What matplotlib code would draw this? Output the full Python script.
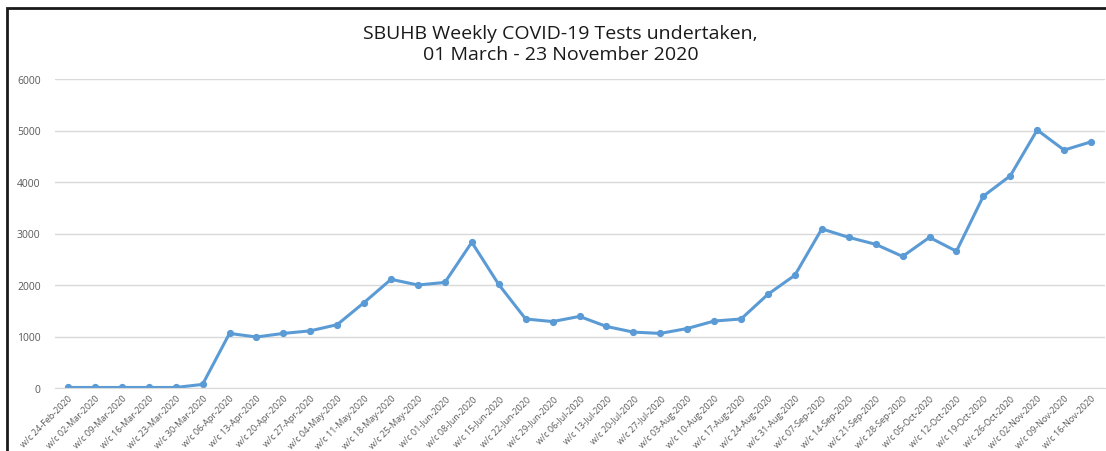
import numpy as np
import matplotlib
matplotlib.use('Agg')
import matplotlib.pyplot as plt
from matplotlib.patches import Rectangle

plt.rcParams['font.family'] = ['Open Sans', 'DejaVu Sans']

# week commencing labels and weekly test counts
weeks = ['24-Feb', '02-Mar', '09-Mar', '16-Mar', '23-Mar', '30-Mar',
         '06-Apr', '13-Apr', '20-Apr', '27-Apr', '04-May', '11-May',
         '18-May', '25-May', '01-Jun', '08-Jun', '15-Jun', '22-Jun',
         '29-Jun', '06-Jul', '13-Jul', '20-Jul', '27-Jul', '03-Aug',
         '10-Aug', '17-Aug', '24-Aug', '31-Aug', '07-Sep', '14-Sep',
         '21-Sep', '28-Sep', '05-Oct', '12-Oct', '19-Oct', '26-Oct',
         '02-Nov', '09-Nov', '16-Nov']
tests = [10, 10, 10, 10, 10, 70,
         1060, 990, 1060, 1110, 1230, 1660,
         2110, 2000, 2050, 2830, 2010, 1340,
         1290, 1390, 1195, 1085, 1060, 1155,
         1300, 1340, 1820, 2190, 3090, 2925,
         2790, 2555, 2925, 2655, 3725, 4120,
         5010, 4620, 4780]

labels = ['w/c ' + w + '-2020' for w in weeks]
x = np.arange(len(tests))

fig = plt.figure(figsize=(11.06, 4.52), dpi=100)
ax = fig.add_axes([54.5 / 1106, 1 - 389 / 452, 1050 / 1106, 309 / 452])

# outer chart frame (top and left edges visible)
fig.patches.append(Rectangle((7 / 1106, -0.1), 1.2, 1 - 9 / 452 + 0.1,
                             transform=fig.transFigure, fill=False,
                             edgecolor='#1a1a1a', linewidth=2))

ax.plot(x, tests, color='#5B9BD5', linewidth=2.2, marker='o', markersize=4.2)

ax.set_xlim(-0.5, len(tests) - 0.5)
ax.set_ylim(0, 6000)
ax.set_yticks(np.arange(0, 6001, 1000))
ax.yaxis.grid(True, color='#D9D9D9', linewidth=1)
ax.set_axisbelow(True)
for s in ['top', 'right', 'left']:
    ax.spines[s].set_visible(False)
ax.spines['bottom'].set_color('#D9D9D9')
ax.tick_params(axis='both', length=0, colors='#595959')
ax.tick_params(axis='y', labelsize=7.5, pad=10)

ax.set_xticks(x)
ax.set_xticklabels(labels, rotation=45, ha='right', va='top',
                   rotation_mode='anchor', fontsize=6.5)
ax.tick_params(axis='x', pad=4)

fig.text(0.507, 0.902, 'SBUHB Weekly COVID-19 Tests undertaken,\n01 March - 23 November 2020',
         ha='center', va='center', fontsize=14, color='#1a1a1a', linespacing=1.2)

fig.savefig('out.png', dpi=100)
